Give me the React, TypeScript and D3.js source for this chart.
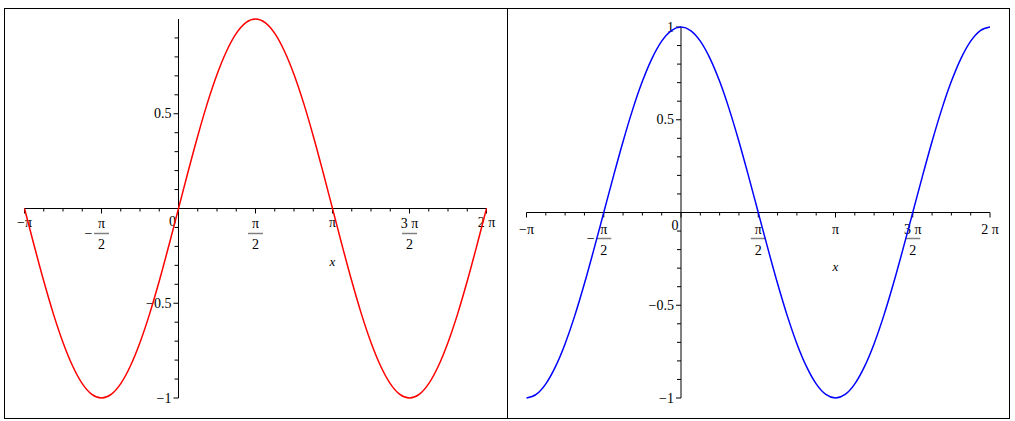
import React from "react";
import * as d3 from "d3";

// x positions in units of π, sampled every π/16 from −π to 2π
const xSteps: number[] = d3.range(-16, 33).map((k) => k / 16);
// sin(x) values
const sinValues: number[] = [
  0, -0.195, -0.383, -0.556, -0.707, -0.831, -0.924, -0.981, -1, -0.981, -0.924, -0.831, -0.707, -0.556, -0.383, -0.195, 0,
  0.195, 0.383, 0.556, 0.707, 0.831, 0.924, 0.981, 1, 0.981, 0.924, 0.831, 0.707, 0.556, 0.383, 0.195, 0,
  -0.195, -0.383, -0.556, -0.707, -0.831, -0.924, -0.981, -1, -0.981, -0.924, -0.831, -0.707, -0.556, -0.383, -0.195, 0,
];
// cos(x) values
const cosValues: number[] = [
  -1, -0.981, -0.924, -0.831, -0.707, -0.556, -0.383, -0.195, 0, 0.195, 0.383, 0.556, 0.707, 0.831, 0.924, 0.981, 1,
  0.981, 0.924, 0.831, 0.707, 0.556, 0.383, 0.195, 0, -0.195, -0.383, -0.556, -0.707, -0.831, -0.924, -0.981, -1,
  -0.981, -0.924, -0.831, -0.707, -0.556, -0.383, -0.195, 0, 0.195, 0.383, 0.556, 0.707, 0.831, 0.924, 0.981, 1,
];

// x tick labels (in units of π)
type XLab = { v: number; num?: string; den?: string; neg?: boolean; text?: string };
const xLabels: XLab[] = [
  { v: -1, text: "−π" },
  { v: -0.5, num: "π", den: "2", neg: true },
  { v: 0.5, num: "π", den: "2" },
  { v: 1, text: "π" },
  { v: 1.5, num: "3 π", den: "2" },
  { v: 2, text: "2 π" },
];
const xMinorTicks: number[] = d3.range(-8, 17).map((k) => k / 8);
const yMinorTicks: number[] = d3.range(-10, 11).map((k) => k / 10);
const yLabelsLeft: number[] = [0.5, -0.5, -1];
const yLabelsRight: number[] = [1, 0.5, -0.5, -1];

const fmtY = (v: number) => (v < 0 ? "−" + String(-v) : String(v));

type PanelProps = {
  xRange: [number, number];
  yRange: [number, number];
  values: number[];
  color: string;
  yLabels: number[];
  yTickTop: number;
  lab: { single: number; num: number; bar: number; den: number; zeroDy: number; xDy: number };
};

const FONT = "'Liberation Serif', 'Times New Roman', serif";

function Panel({ xRange, yRange, values, color, yLabels, yTickTop, lab }: PanelProps) {
  const x = d3.scaleLinear().domain([-1, 2]).range(xRange);
  const y = d3.scaleLinear().domain([-1, 1]).range(yRange);
  const x0 = x(0);
  const y0 = y(0);
  const line = d3
    .line<number>()
    .x((_, i) => x(xSteps[i]))
    .y((d) => y(d))
    .curve(d3.curveMonotoneX);
  return (
    <g fontFamily={FONT} fontSize={14} fill="#000">
      {/* x axis */}
      <line x1={x(-1)} x2={x(2)} y1={y0} y2={y0} stroke="#000" strokeWidth={1} />
      {xMinorTicks.map((t, i) => {
        const major = Math.abs(t * 2 - Math.round(t * 2)) < 1e-9;
        return (
          <line key={"xt" + i} x1={x(t)} x2={x(t)} y1={y0} y2={y0 + (major ? 5 : 3)} stroke="#000" strokeWidth={1} />
        );
      })}
      {/* y axis */}
      <line x1={x0} x2={x0} y1={y(-1)} y2={y(1)} stroke="#000" strokeWidth={1} />
      {yMinorTicks
        .filter((t) => t <= yTickTop + 1e-9 && Math.abs(t) > 1e-9)
        .map((t, i) => {
          const major = Math.abs(t * 2 - Math.round(t * 2)) < 1e-9;
          return (
            <line key={"yt" + i} x1={x0 - (major ? 5 : 4)} x2={x0} y1={y(t)} y2={y(t)} stroke="#000" strokeWidth={1} />
          );
        })}
      {/* y labels */}
      {yLabels.map((v, i) => (
        <text key={"yl" + i} x={x0 - 7} y={y(v)} textAnchor="end" dominantBaseline="central">
          {fmtY(v)}
        </text>
      ))}
      {/* origin label */}
      <text x={x0 - 6} y={y0 + lab.zeroDy} textAnchor="middle" dominantBaseline="central">
        0
      </text>
      {/* x labels */}
      {xLabels.map((l, i) => {
        const cx = x(l.v);
        if (l.text) {
          return (
            <text key={"xl" + i} x={cx} y={y0 + lab.single} textAnchor="middle" dominantBaseline="central">
              {l.text}
            </text>
          );
        }
        return (
          <g key={"xl" + i}>
            <text x={cx} y={y0 + lab.num} textAnchor="middle" dominantBaseline="central">
              {l.num}
            </text>
            <line x1={cx - 7.5} x2={cx + 7.5} y1={y0 + lab.bar} y2={y0 + lab.bar} stroke="#808080" strokeWidth={1.5} />
            <text x={cx} y={y0 + lab.den} textAnchor="middle" dominantBaseline="central">
              {l.den}
            </text>
            {l.neg && (
              <text x={cx - 13} y={y0 + lab.bar} textAnchor="middle" dominantBaseline="central">
                −
              </text>
            )}
          </g>
        );
      })}
      {/* axis name */}
      <text x={x(1)} y={y0 + lab.xDy} textAnchor="middle" dominantBaseline="central" fontStyle="italic" fontSize={13}>
        x
      </text>
      {/* curve */}
      <path d={line(values) || ""} fill="none" stroke={color} strokeWidth={1.5} />
    </g>
  );
}

export default function App() {
  return (
    <svg
      width={1015}
      height={421}
      style={{ position: "absolute", left: 0, top: 0, background: "#fff" }}
    >
      <rect x={0} y={0} width={1015} height={421} fill="#fff" />
      <rect x={4.5} y={8.5} width={1005} height={410} fill="none" stroke="#000" strokeWidth={1} />
      <line x1={507.5} x2={507.5} y1={8.5} y2={418.5} stroke="#000" strokeWidth={1} />
      <Panel
        xRange={[24.5, 486.5]}
        yRange={[398, 19]}
        values={sinValues}
        color="#ff0000"
        yLabels={yLabelsLeft}
        yTickTop={0.9}
        lab={{ single: 14, num: 15, bar: 25, den: 36, zeroDy: 13, xDy: 53 }}
      />
      <Panel
        xRange={[526.5, 990]}
        yRange={[398, 27]}
        values={cosValues}
        color="#0000ff"
        yLabels={yLabelsRight}
        yTickTop={1}
        lab={{ single: 17, num: 17, bar: 26, den: 38, zeroDy: 12.5, xDy: 54 }}
      />
    </svg>
  );
}
